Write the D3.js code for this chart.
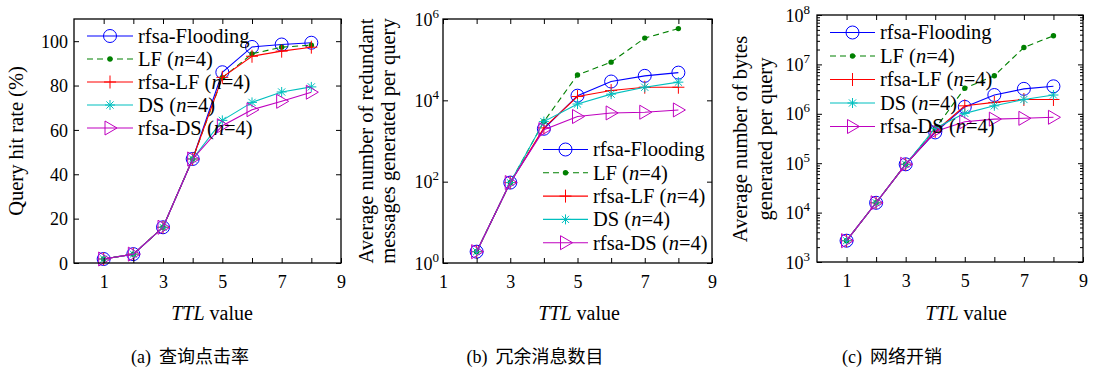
<!DOCTYPE html>
<html><head><meta charset="utf-8">
<script src="https://cdn.jsdelivr.net/npm/d3@7"></script>
<style>
body{margin:0;background:#fff}
svg{display:block}
</style>
</head><body><svg id="c" width="1094" height="373"></svg>
<script>
// ---------- data ----------
const ttlA = [1,2,3,4,5,6,7,8];
const ttlB = [2,3,4,5,6,7,8];
const ttlC = [1,2,3,4,5,6,7,8];
const seriesNames = ["rfsa-Flooding","LF","rfsa-LF","DS","rfsa-DS"];
const seriesHasN = [false,true,true,true,true];

const hitFlooding = [1.8,4.0,16.1,46.9,86.0,97.4,98.5,99.3];
const hitLF       = [1.8,4.0,16.1,46.9,83.5,94.3,97.3,98.2];
const hitRfsaLF   = [1.8,4.0,16.1,46.9,83.7,93.2,95.5,97.3];
const hitDS       = [1.8,4.0,16.1,46.9,64.3,72.4,77.1,79.4];
const hitRfsaDS   = [1.8,4.0,16.1,46.9,61.9,69.1,72.9,77.0];

const msgFlooding = [1.9,95,2000,13000,29000,40000,48000];
const msgLF       = [1.9,95,3000,42000,87000,339000,580000];
const msgRfsaLF   = [1.9,95,2100,12400,17400,21000,21000];
const msgDS       = [1.9,95,3000,8100,14200,21000,28000];
const msgRfsaDS   = [1.9,95,1900,4000,4900,5100,5800];

const bytesFlooding = [2700,15800,95000,420000,1380000,2400000,3200000,3600000];
const bytesLF       = [2700,15800,95000,500000,3300000,5900000,22000000,38000000];
const bytesRfsaLF   = [2700,15800,95000,440000,1450000,1700000,1950000,1950000];
const bytesDS       = [2700,15800,95000,510000,1020000,1450000,1950000,2400000];
const bytesRfsaDS   = [2700,15800,95000,440000,690000,780000,810000,850000];

const xTickLabels = [1,3,5,7,9];
const hitTicks = [0,20,40,60,80,100];
const msgTickExps = [0,2,4,6];
const bytesTickExps = [3,4,5,6,7,8];
const xLabelText = "value";
const yLabelsA = ["Query hit rate (%)"];
const yLabelsB = ["Average number of redundant","messages generated per query"];
const yLabelsC = ["Average number of bytes","generated per query"];
const captionTags = ["(a)","(b)","(c)"];
const captionTexts = ["查询点击率","冗余消息数目","网络开销"];

// ---------- styles ----------
const colors = ["#0000ff","#008000","#ff0000","#00bfbf","#bf00bf"];
const dashes = [null,"6,4",null,null,null];
const markerKinds = ["circle","dot","plus","star","tri"];
const serif = '"Liberation Serif"';
const cjk = '"Noto Sans CJK SC"';

const svg = d3.select("#c");

function drawMarker(sel, kind, color) {
  if (kind === "circle") {
    sel.append("circle").attr("r",6.5).attr("fill","none").attr("stroke",color).attr("stroke-width",1);
  } else if (kind === "dot") {
    sel.append("circle").attr("r",2.7).attr("fill",color);
  } else if (kind === "plus") {
    const p = d3.path(); p.moveTo(-6,0); p.lineTo(6,0); p.moveTo(0,-6.5); p.lineTo(0,6.5);
    sel.append("path").attr("d",p.toString()).attr("stroke",color).attr("fill","none");
  } else if (kind === "star") {
    const p = d3.path(); p.moveTo(-5,0); p.lineTo(5,0); p.moveTo(0,-5); p.lineTo(0,5);
    p.moveTo(-3.6,-3.6); p.lineTo(3.6,3.6); p.moveTo(-3.6,3.6); p.lineTo(3.6,-3.6);
    sel.append("path").attr("d",p.toString()).attr("stroke",color).attr("fill","none");
  } else if (kind === "tri") {
    const p = d3.path(); p.moveTo(-5,-7); p.lineTo(7,0); p.lineTo(-5,7); p.closePath();
    sel.append("path").attr("d",p.toString()).attr("stroke",color).attr("fill","none");
  }
}

function styleAxis(ax) {
  ax.attr("font-family", null).attr("font-size", null);
  ax.select(".domain").remove();
  ax.selectAll(".tick line").attr("stroke","#000").attr("stroke-width",1);
  ax.selectAll("text").style("font-size","18px");
}

function drawPanel(p) {
  const g = svg.append("g");
  const x = d3.scaleLinear().domain(p.xDomain).range([p.left, p.right]);
  const y = p.yScale.range([p.bottom, p.top]);

  // series
  p.series.forEach((vals, i) => {
    const pts = p.xs.map((t, k) => [t, vals[k]]);
    const line = d3.line().x(d => x(d[0])).y(d => y(d[1]));
    g.append("path").attr("d", line(pts)).attr("fill","none")
      .attr("stroke", colors[i]).attr("stroke-width",1.1)
      .attr("stroke-dasharray", dashes[i]);
    pts.forEach(d => {
      const m = g.append("g").attr("transform", `translate(${x(d[0])},${y(d[1])})`);
      drawMarker(m, markerKinds[i], colors[i]);
    });
  });

  // frame
  g.append("rect").attr("x",p.left).attr("y",p.top)
    .attr("width",p.right-p.left).attr("height",p.bottom-p.top)
    .attr("fill","none").attr("stroke","#000").attr("stroke-width",1.3);

  // x axes
  const xb = g.append("g").attr("transform",`translate(0,${p.bottom})`)
    .call(d3.axisBottom(x).tickValues(p.xTickVals).tickSizeInner(-5).tickSizeOuter(0)
      .tickFormat(d => xTickLabels.includes(d) ? d : ""));
  styleAxis(xb);
  xb.selectAll("text").attr("y",25).attr("dy",null);
  const xt = g.append("g").attr("transform",`translate(0,${p.top})`)
    .call(d3.axisTop(x).tickValues(p.xTickVals).tickSizeInner(-5).tickSizeOuter(0).tickFormat(""));
  styleAxis(xt);

  // y axes
  const yl = g.append("g").attr("transform",`translate(${p.left},0)`)
    .call(d3.axisLeft(y).tickValues(p.yTickVals).tickSizeInner(-5).tickSizeOuter(0)
      .tickFormat(p.log ? (() => "") : (d => d)));
  styleAxis(yl);
  yl.selectAll("text").attr("x",-p.labelGap).attr("dy","0.34em").attr("text-anchor","end");
  if (p.log) {
    yl.selectAll(".tick text").each(function(d) {
      const t = d3.select(this);
      t.text("10");
      t.append("tspan").attr("dy",-8).style("font-size","13px").text(Math.round(Math.log10(d)));
    });
  }
  const yr = g.append("g").attr("transform",`translate(${p.right},0)`)
    .call(d3.axisRight(y).tickValues(p.yTickVals).tickSizeInner(-5).tickSizeOuter(0).tickFormat(""));
  styleAxis(yr);
  if (p.minor) {
    [[d3.axisLeft, p.left],[d3.axisRight, p.right]].forEach(([fn, tx]) => {
      const a = g.append("g").attr("transform",`translate(${tx},0)`)
        .call(fn(y).tickValues(p.minor).tickSizeInner(-3).tickSizeOuter(0).tickFormat(""));
      styleAxis(a);
    });
  }

  // x label
  const xl = g.append("text").attr("x",p.xLabelX).attr("y",320).attr("text-anchor","middle")
    .style("font-size","20px");
  xl.append("tspan").style("font-style","italic").text("TTL");
  xl.append("tspan").text(" " + xLabelText);

  // y labels
  p.yLabels.forEach((s, i) => {
    g.append("text").attr("transform",`translate(${p.yLabelX[i]},${p.yLabelY}) rotate(-90)`)
      .attr("text-anchor","middle").style("font-size","20.5px").text(s);
  });

  // legend
  const L = p.legend;
  seriesNames.forEach((name, i) => {
    const yy = L.y0 + i * L.dy;
    g.append("line").attr("x1",L.x0).attr("x2",L.x1).attr("y1",yy).attr("y2",yy)
      .attr("stroke",colors[i]).attr("stroke-width",1.1).attr("stroke-dasharray",dashes[i]);
    const m = g.append("g").attr("transform",`translate(${(L.x0+L.x1)/2},${yy})`);
    drawMarker(m, markerKinds[i], colors[i]);
    const t = g.append("text").attr("x",L.x1+5).attr("y",yy).attr("dy","0.34em").style("font-size","20.5px");
    t.append("tspan").text(name);
    if (seriesHasN[i]) {
      t.append("tspan").text(" (");
      t.append("tspan").style("font-style","italic").text("n");
      t.append("tspan").text("=4)");
    }
  });

  // caption
  const c = g.append("text").attr("class","cap").attr("x",p.captionX).attr("y",363).attr("text-anchor","middle")
    .style("font-size","18px");
  c.append("tspan").text(p.captionTag);
  c.append("tspan").attr("class","cjk").attr("dx",8).text(p.captionText);
}

function minorTicks(e0, e1) {
  const out = [];
  for (let e = e0; e < e1; e++) for (let k = 2; k <= 9; k++) out.push(k * Math.pow(10, e));
  return out;
}

drawPanel({
  left:74, right:341, top:19, bottom:263,
  xDomain:[0,9], xTickVals:[1,2,3,4,5,6,7,8,9],
  yScale: d3.scaleLinear().domain([0,110]), yTickVals: hitTicks, log:false, labelGap:6,
  xs: ttlA, series:[hitFlooding,hitLF,hitRfsaLF,hitDS,hitRfsaDS],
  xLabelX:212, yLabels:yLabelsA, yLabelX:[23], yLabelY:141,
  legend:{x0:87, x1:133, y0:36, dy:23},
  captionTag:captionTags[0], captionText:captionTexts[0], captionX:190
});

drawPanel({
  left:443, right:712, top:19, bottom:263,
  xDomain:[1,9], xTickVals:[1,2,3,4,5,6,7,8,9],
  yScale: d3.scaleLog().domain([1,1e6]), yTickVals: msgTickExps.map(e => Math.pow(10,e)), log:true, labelGap:4,
  xs: ttlB, series:[msgFlooding,msgLF,msgRfsaLF,msgDS,msgRfsaDS],
  xLabelX:579, yLabels:yLabelsB, yLabelX:[373,395], yLabelY:141,
  legend:{x0:543, x1:588, y0:149.5, dy:23.3},
  captionTag:captionTags[1], captionText:captionTexts[1], captionX:535
});

drawPanel({
  left:817, right:1083, top:15, bottom:262,
  xDomain:[0,9], xTickVals:[1,2,3,4,5,6,7,8,9],
  yScale: d3.scaleLog().domain([1e3,1e8]), yTickVals: bytesTickExps.map(e => Math.pow(10,e)), log:true, labelGap:7,
  minor: minorTicks(3,8),
  xs: ttlC, series:[bytesFlooding,bytesLF,bytesRfsaLF,bytesDS,bytesRfsaDS],
  xLabelX:966, yLabels:yLabelsC, yLabelX:[747,772], yLabelY:139,
  legend:{x0:830, x1:875, y0:32.5, dy:23.5},
  captionTag:captionTags[2], captionText:captionTexts[2], captionX:892
});

// fonts
svg.selectAll("text").style("font-family", serif).style("fill", "#000");
svg.selectAll("tspan.cjk").style("font-family", cjk);
</script>
</body></html>
